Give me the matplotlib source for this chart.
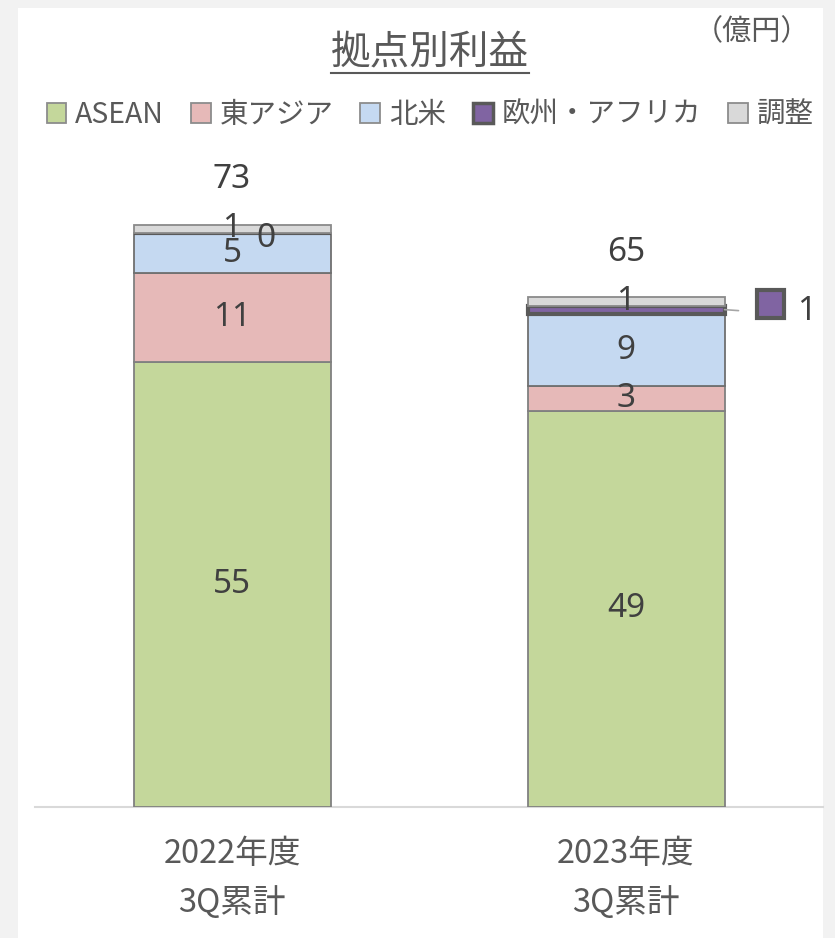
import matplotlib
matplotlib.use("Agg")
import matplotlib.pyplot as plt
from matplotlib.patches import Patch, Rectangle
from matplotlib.lines import Line2D
from matplotlib.offsetbox import DrawingArea, AnnotationBbox
import numpy as np

plt.rcParams['font.family'] = ['Noto Sans CJK JP', 'DejaVu Sans']

# ---- data ----
categories = ['2022年度\n3Q累計', '2023年度\n3Q累計']
series_names = ['ASEAN', '東アジア', '北米', '欧州・アフリカ', '調整']
asean = [55, 49]
east_asia = [11, 3]
north_america = [5, 9]
europe_africa = [0, 1]
adjustment = [1, 1]
totals = [73, 65]

title = '拠点別利益'
unit = '（億円）'

# ---- style ----
face_colors = ['#c4d79b', '#e6b9b8', '#c5d9f1', '#8064a2', '#d9d9d9']
edge_colors = ['#808080', '#808080', '#6f6f6f', '#595959', '#8a8a8a']
edge_widths = [1.3, 1.3, 1.3, 3.0, 1.3]
label_color = '#404040'
text_color = '#595959'
num_font = ['Noto Sans', 'DejaVu Sans']

W, H = 835, 938
fig = plt.figure(figsize=(W / 100, H / 100), dpi=100, facecolor='#f2f2f2')
# white panel
fig.patches.append(Rectangle((18 / W, 0), (823 - 18) / W, 1 - 8 / H,
                             transform=fig.transFigure, facecolor='white',
                             edgecolor='none', zorder=-5))

ax_left, ax_right, ax_bottom_px, ax_top_px = 35, 823, 807, 160
ax = fig.add_axes([ax_left / W, 1 - ax_bottom_px / H, (ax_right - ax_left) / W,
                   (ax_bottom_px - ax_top_px) / H])
ax.set_facecolor('none')
ax.set_zorder(2)

x = np.arange(len(categories))
width = 0.5
series = [asean, east_asia, north_america, europe_africa, adjustment]
bottom = np.zeros(len(categories))
for vals, fc, ec, lw, name in zip(series, face_colors, edge_colors, edge_widths, series_names):
    ax.bar(x, vals, width, bottom=bottom, color=fc, edgecolor=ec,
           linewidth=lw, label=name, zorder=3)
    bottom = bottom + np.array(vals)

ax.set_xlim(-0.5, 1.5)
ax.set_ylim(0, 80)
ax.set_yticks([])
for s in ['left', 'right', 'top']:
    ax.spines[s].set_visible(False)
ax.spines['bottom'].set_color('#d9d9d9')
ax.spines['bottom'].set_linewidth(1.5)
ax.set_xticks(x, categories)
ax.tick_params(axis='x', length=0, pad=22, labelsize=23.5, labelcolor=text_color)
for lbl in ax.get_xticklabels():
    lbl.set_linespacing(1.62)

# ---- data labels ----
fs = 24
cum = np.zeros(len(categories))
for si, vals in enumerate(series):
    for i, v in enumerate(vals):
        ycen = cum[i] + v / 2
        if si == 3 and i == 0:
            ax.annotate(f'{v}', (x[i], ycen), xytext=(34, -6), textcoords='offset pixels',
                        ha='center', va='center', fontsize=fs, color=label_color,
                        family=num_font, zorder=5)
        elif si == 3 and i == 1:
            xr = x[i] + width / 2
            ax.annotate('', (xr, ycen), xytext=(14, -1), textcoords='offset pixels',
                        arrowprops=dict(arrowstyle='-', color='#a6a6a6', lw=1.2,
                                        shrinkA=0, shrinkB=0), zorder=5)
            da = DrawingArea(20, 20, 0, 0)
            da.add_artist(Rectangle((0, 0), 20, 20, facecolor=face_colors[3],
                                    edgecolor='#595959', linewidth=3))
            ab = AnnotationBbox(da, (xr, ycen), xybox=(46, 6), boxcoords='offset pixels',
                                frameon=False, box_alignment=(0.5, 0.5), zorder=5)
            ax.add_artist(ab)
            ax.annotate(f'{v}', (xr, ycen), xytext=(82, -2), textcoords='offset pixels',
                        ha='center', va='center', fontsize=fs, color=label_color,
                        family=num_font, zorder=5)
        else:
            ax.annotate(f'{v}', (x[i], ycen), xytext=(0, 0), textcoords='offset pixels',
                        ha='center', va='center', fontsize=fs, color=label_color,
                        family=num_font, zorder=5)
    cum = cum + np.array(vals)

for i, t in enumerate(totals):
    ax.annotate(f'{t}', (x[i], cum[i]), xytext=(0, 45), textcoords='offset pixels',
                ha='center', va='center', fontsize=fs, color=label_color,
                family=num_font, zorder=5)

# ---- legend ----
handles = [Patch(facecolor=fc, edgecolor=ec, linewidth=(2.5 if lw > 2 else 1.3))
           for fc, ec, lw in zip(face_colors, ['#8c8c8c'] * 3 + ['#595959', '#8c8c8c'], edge_widths)]
leg = fig.legend(handles, series_names, loc='center', bbox_to_anchor=(430 / W, 1 - 115 / H),
                 ncol=5, frameon=False, fontsize=20.5, labelcolor=text_color,
                 handlelength=0.7, handleheight=0.7, handletextpad=0.3,
                 columnspacing=0.95, borderpad=0)

# ---- title ----
t = fig.text(430 / W, 1 - 52 / H, title, ha='center', va='center', fontsize=28.5,
             color=text_color)
fig.text(752 / W, 1 - 32 / H, unit, ha='center', va='center', fontsize=21,
         color=text_color)
fig.canvas.draw()
bb = t.get_window_extent()
fig.add_artist(Line2D([bb.x0 / W, bb.x1 / W], [(bb.y0 - 1) / H, (bb.y0 - 1) / H],
                      transform=fig.transFigure, color=text_color, lw=1.5))

fig.savefig('out.png', dpi=100, facecolor=fig.get_facecolor())
